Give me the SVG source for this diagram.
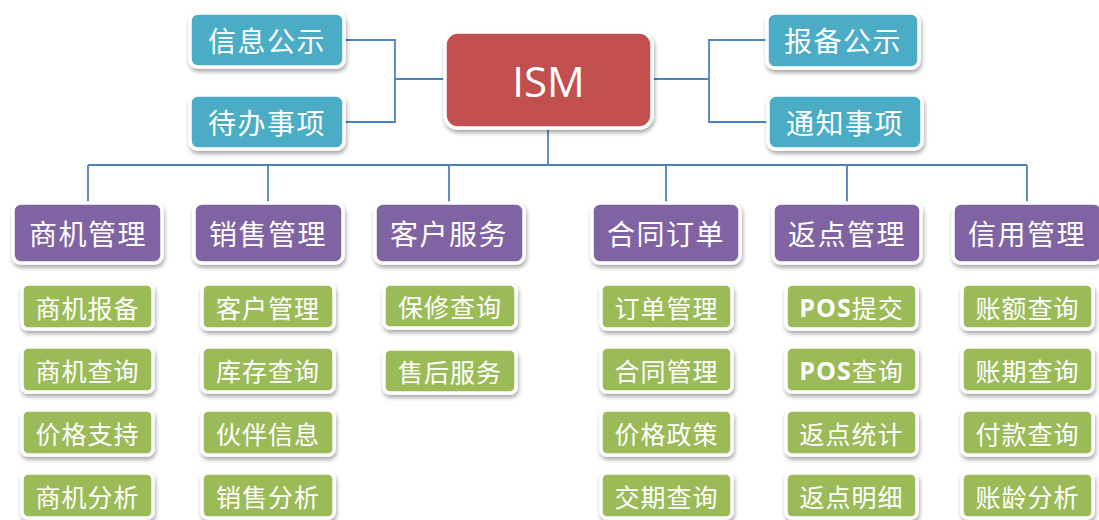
<svg xmlns="http://www.w3.org/2000/svg" width="1099" height="520" viewBox="0 0 1099 520">
<defs>
<filter id="sh" x="-10%" y="-10%" width="125%" height="135%">
<feGaussianBlur in="SourceAlpha" stdDeviation="2"/>
<feOffset dx="1" dy="3" result="b"/>
<feComponentTransfer><feFuncA type="linear" slope="0.35"/></feComponentTransfer>
<feMerge><feMergeNode/><feMergeNode in="SourceGraphic"/></feMerge>
</filter>
</defs>
<style>
text{font-family:"Noto Sans CJK SC","Noto Sans",sans-serif;fill:#fff;text-anchor:middle;dominant-baseline:central}
.box{stroke:#fff;stroke-width:3.5;filter:url(#sh)}
.blue{fill:#4BACC6}
.red{fill:#C0504D}
.pur{fill:#8064A2}
.grn{fill:#9BBB59}
.t1{font-size:28px;letter-spacing:1.5px}
.t2{font-size:25px;letter-spacing:1px}
.ism{font-family:"Open Sans","Noto Sans",sans-serif;font-size:42px}
.pos{font-family:"Open Sans","Noto Sans",sans-serif;font-weight:bold}
.conn path{fill:none;stroke:#4F81BD;stroke-width:1.8}
</style>
<rect width="1099" height="520" fill="#fff"/>
<g class="conn" id="connectors">
<path d="M344,40 H395 V122 H344 M395,79 H445"/>
<path d="M652,79 H709 M767,40 H709 V122 H768"/>
<path d="M548,128 V165 M88,165 H1027"/>
<path d="M88,165 V203 M268,165 V203 M449,165 V203 M666,165 V203 M847,165 V203 M1027,165 V203"/>
</g>
<g id="ism"><rect class="box red" x="445" y="32" width="207" height="96" rx="13"/><text class="ism" x="548.5" y="80">ISM</text></g>
<g id="xxgs"><rect class="box blue" x="190" y="13" width="154" height="54" rx="8"/><text class="t1" x="267" y="40">信息公示</text></g>
<g id="dbsx"><rect class="box blue" x="190" y="95" width="154" height="54" rx="8"/><text class="t1" x="267" y="122">待办事项</text></g>
<g id="bbgs"><rect class="box blue" x="767" y="13" width="152" height="55" rx="8"/><text class="t1" x="843" y="40">报备公示</text></g>
<g id="tzsx"><rect class="box blue" x="768" y="95" width="154" height="54" rx="8"/><text class="t1" x="845" y="122">通知事项</text></g>

<g id="sjgl"><rect class="box pur" x="13" y="203" width="149" height="60" rx="8"/><text class="t1" x="88" y="233">商机管理</text></g>
<g id="xsgl"><rect class="box pur" x="194" y="203" width="149" height="60" rx="8"/><text class="t1" x="268" y="233">销售管理</text></g>
<g id="khfw"><rect class="box pur" x="375" y="203" width="149" height="60" rx="8"/><text class="t1" x="449" y="233">客户服务</text></g>
<g id="htdd"><rect class="box pur" x="592" y="203" width="148" height="60" rx="8"/><text class="t1" x="666" y="233">合同订单</text></g>
<g id="fdgl"><rect class="box pur" x="773" y="203" width="148" height="60" rx="8"/><text class="t1" x="847" y="233">返点管理</text></g>
<g id="xygl"><rect class="box pur" x="953" y="203" width="149" height="60" rx="8"/><text class="t1" x="1027" y="233">信用管理</text></g>

<g id="sjbb"><rect class="box grn" x="22" y="284" width="131" height="45" rx="6"/><text class="t2" x="87.5" y="306.5">商机报备</text></g>
<g id="sjcx"><rect class="box grn" x="22" y="347" width="131" height="45" rx="6"/><text class="t2" x="87.5" y="369.5">商机查询</text></g>
<g id="jgzc"><rect class="box grn" x="22" y="410" width="131" height="45" rx="6"/><text class="t2" x="87.5" y="432.5">价格支持</text></g>
<g id="sjfx"><rect class="box grn" x="22" y="473" width="131" height="45" rx="6"/><text class="t2" x="87.5" y="495.5">商机分析</text></g>

<g id="khgl"><rect class="box grn" x="202" y="284" width="132" height="45" rx="6"/><text class="t2" x="268" y="306.5">客户管理</text></g>
<g id="kccx"><rect class="box grn" x="202" y="347" width="132" height="45" rx="6"/><text class="t2" x="268" y="369.5">库存查询</text></g>
<g id="hbxx"><rect class="box grn" x="202" y="410" width="132" height="45" rx="6"/><text class="t2" x="268" y="432.5">伙伴信息</text></g>
<g id="xsfx"><rect class="box grn" x="202" y="473" width="132" height="45" rx="6"/><text class="t2" x="268" y="495.5">销售分析</text></g>

<g id="bxcx"><rect class="box grn" x="384" y="284" width="132" height="44" rx="6"/><text class="t2" x="450" y="306">保修查询</text></g>
<g id="shfw"><rect class="box grn" x="384" y="349" width="132" height="44" rx="6"/><text class="t2" x="450" y="371">售后服务</text></g>

<g id="ddgl"><rect class="box grn" x="601" y="284" width="131" height="45" rx="6"/><text class="t2" x="666.5" y="306.5">订单管理</text></g>
<g id="htgl"><rect class="box grn" x="601" y="347" width="131" height="45" rx="6"/><text class="t2" x="666.5" y="369.5">合同管理</text></g>
<g id="jgzc2"><rect class="box grn" x="601" y="410" width="131" height="45" rx="6"/><text class="t2" x="666.5" y="432.5">价格政策</text></g>
<g id="jqcx"><rect class="box grn" x="601" y="473" width="131" height="45" rx="6"/><text class="t2" x="666.5" y="495.5">交期查询</text></g>

<g id="postj"><rect class="box grn" x="786" y="284" width="131" height="45" rx="6"/><text class="t2" x="851.5" y="306.5"><tspan class="pos">POS</tspan>提交</text></g>
<g id="poscx"><rect class="box grn" x="786" y="347" width="131" height="45" rx="6"/><text class="t2" x="851.5" y="369.5"><tspan class="pos">POS</tspan>查询</text></g>
<g id="fdtj"><rect class="box grn" x="786" y="410" width="131" height="45" rx="6"/><text class="t2" x="851.5" y="432.5">返点统计</text></g>
<g id="fdmx"><rect class="box grn" x="786" y="473" width="131" height="45" rx="6"/><text class="t2" x="851.5" y="495.5">返点明细</text></g>

<g id="eecx"><rect class="box grn" x="962" y="284" width="131" height="45" rx="6"/><text class="t2" x="1027.5" y="306.5">账额查询</text></g>
<g id="zqcx"><rect class="box grn" x="962" y="347" width="131" height="45" rx="6"/><text class="t2" x="1027.5" y="369.5">账期查询</text></g>
<g id="fkcx"><rect class="box grn" x="962" y="410" width="131" height="45" rx="6"/><text class="t2" x="1027.5" y="432.5">付款查询</text></g>
<g id="zlfx"><rect class="box grn" x="962" y="473" width="131" height="45" rx="6"/><text class="t2" x="1027.5" y="495.5">账龄分析</text></g>
</svg>
